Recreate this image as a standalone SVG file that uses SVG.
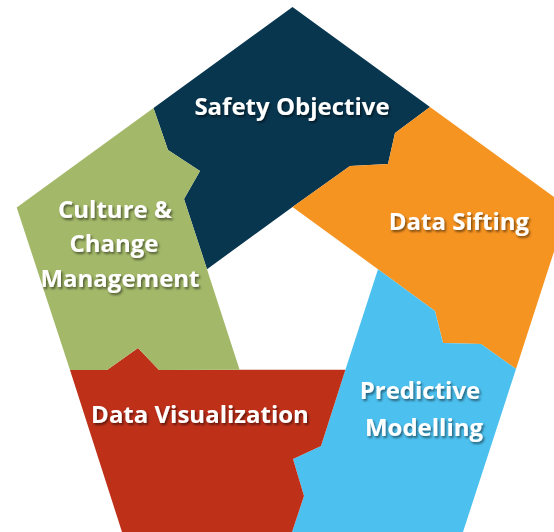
<svg xmlns="http://www.w3.org/2000/svg" width="554" height="532" viewBox="0 0 554 532">
<defs>
<filter id="sh" x="-10%" y="-30%" width="120%" height="160%">
<feDropShadow dx="1.5" dy="2" stdDeviation="1.3" flood-color="#000" flood-opacity="0.5"/>
</filter>
<style>
.lbl{font-family:"Open Sans","Noto Sans",sans-serif;font-weight:700;font-size:24px;fill:#fff;text-anchor:middle;filter:url(#sh)}
</style>
</defs>
<rect width="554" height="532" fill="#fff"/>
<g id="safety-objective">
<path fill="#08364F" d="M153.5,108 L292.5,7 L430,107 L395,133 L388,164 L350,166 L292.5,207 L207,269.2 L184,199 L200,171 L168,150 Z"/>
<text class="lbl" x="292" y="115">Safety Objective</text>
</g>
<g id="data-sifting">
<path fill="#F69422" d="M430,107 L568.3,207.4 L516,369 L481,344 L443,343 L435,311 L378,269.2 L292.5,207 L350,166 L388,164 L395,133 Z"/>
<text class="lbl" x="459" y="230">Data Sifting</text>
</g>
<g id="predictive-modelling">
<path fill="#4CC0EF" d="M516,369 L463,532 L292,532 L304,496 L293,459 L321,446 L345.4,369.8 L378,269.2 L435,311 L443,343 L481,344 Z"/>
<text class="lbl" x="420" y="399">Predictive</text>
<text class="lbl" x="424" y="436">Modelling</text>
</g>
<g id="data-visualization">
<path fill="#BF3019" d="M292,532 L122,532 L70,370 L107,370 L138,348 L159,370 L239.6,369.8 L345.4,369.8 L321,446 L293,459 L304,496 Z"/>
<text class="lbl" x="200" y="423">Data Visualization</text>
</g>
<g id="culture-change-management">
<path fill="#A3B869" d="M70,370 L16.7,207.4 L153.5,108 L168,150 L200,171 L184,199 L207,269.2 L239.6,369.8 L159,370 L138,348 L107,370 Z"/>
<text class="lbl" x="115" y="218">Culture &amp;</text>
<text class="lbl" x="114" y="252">Change</text>
<text class="lbl" x="120" y="287">Management</text>
</g>
<g id="connectors"/>
</svg>
